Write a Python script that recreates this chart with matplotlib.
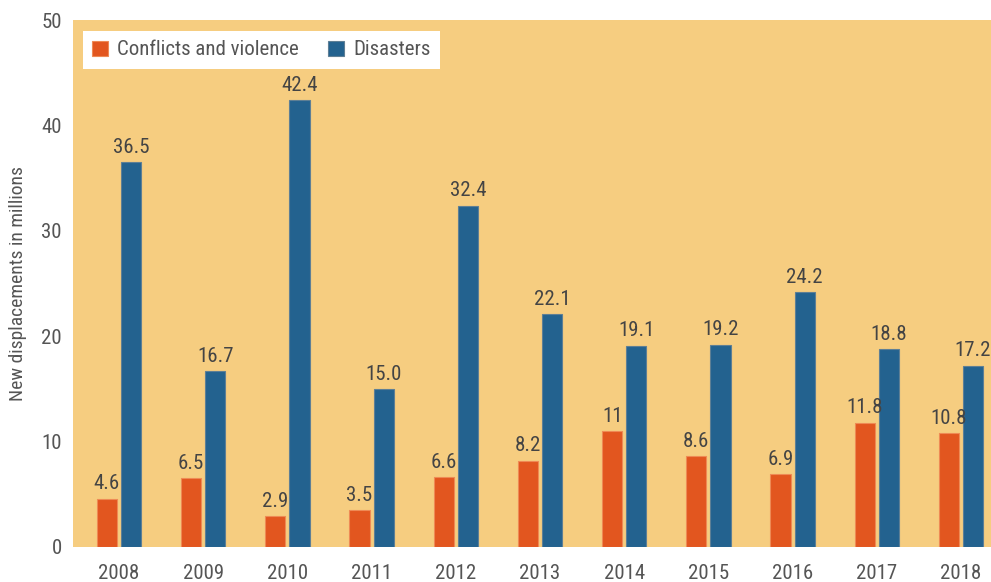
import matplotlib.pyplot as plt
import numpy as np

years = ['2008', '2009', '2010', '2011', '2012', '2013', '2014', '2015', '2016', '2017', '2018']
conflict = [4.6, 6.5, 2.9, 3.5, 6.6, 8.2, 11.0, 8.6, 6.9, 11.8, 10.8]
conflict_lbl = ['4.6', '6.5', '2.9', '3.5', '6.6', '8.2', '11', '8.6', '6.9', '11.8', '10.8']
disaster = [36.5, 16.7, 42.4, 15.0, 32.4, 22.1, 19.1, 19.2, 24.2, 18.8, 17.2]
disaster_lbl = ['36.5', '16.7', '42.4', '15.0', '32.4', '22.1', '19.1', '19.2', '24.2', '18.8', '17.2']

plt.rcParams['font.family'] = ['Roboto Condensed', 'DejaVu Sans']
txt = '#444444'
tick_col = '#555555'
c_orange = '#E2561F'
c_blue = '#23628F'

fig = plt.figure(figsize=(9.91, 5.82), dpi=100)
ax = fig.add_axes([73 / 991, 1 - 547 / 582, 1 - 73 / 991, (547 - 20) / 582])
ax.set_facecolor('#F6CD80')

x = np.arange(len(years))
w = 0.24
off = 0.143
ax.bar(x - off, conflict, w, color=c_orange, edgecolor='#EE8A55', linewidth=0.8,
       label='Conflicts and violence')
ax.bar(x + off, disaster, w, color=c_blue, edgecolor='#5E7F95', linewidth=0.8,
       label='Disasters')

for xi, v, s in zip(x, conflict, conflict_lbl):
    ax.text(xi - off, v + 0.5, s, ha='center', va='bottom', fontsize=15, color=txt)
for xi, v, s in zip(x, disaster, disaster_lbl):
    ax.text(xi + off, v + 0.5, s, ha='center', va='bottom', fontsize=15, color=txt)

ax.set_xlim(-0.546, 10.356)
ax.set_ylim(0, 50)
ax.set_yticks([0, 10, 20, 30, 40, 50])
ax.set_xticks(x)
ax.set_xticklabels(years)
ax.tick_params(axis='both', length=0, labelsize=15, colors=tick_col)
ax.tick_params(axis='x', pad=12)
ax.tick_params(axis='y', pad=8)
for sp in ax.spines.values():
    sp.set_visible(False)

ax.set_ylabel('New displacements in millions', fontsize=14, color=tick_col, labelpad=10)

leg = ax.legend(loc='upper left', ncol=2, bbox_to_anchor=(0.011, 0.979), borderaxespad=0,
                fontsize=15, frameon=True, fancybox=False, framealpha=1, edgecolor='white',
                handlelength=0.75, handleheight=0.75, handletextpad=0.45, columnspacing=1.4,
                borderpad=0.45, labelcolor=tick_col)
leg.get_frame().set_linewidth(0)

fig.savefig('out.png', dpi=100)
